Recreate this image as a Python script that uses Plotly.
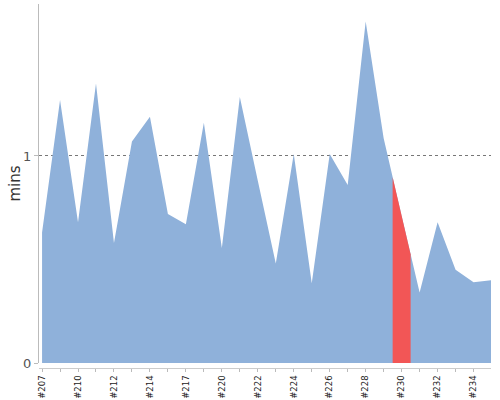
import plotly.graph_objects as go

# build numbers (only every other one is labelled on the axis)
builds = ['#207', '#209', '#210', '#211', '#212', '#213', '#214', '#216', '#217',
          '#219', '#220', '#221', '#222', '#223', '#224', '#225', '#226', '#227',
          '#228', '#229', '#230', '#231', '#232', '#233', '#234', '#235']
mins = [0.63, 1.27, 0.68, 1.35, 0.58, 1.07, 1.19, 0.72, 0.67, 1.16,
        0.555, 1.285, 0.88, 0.48, 1.01, 0.385, 1.01, 0.86, 1.65, 1.085,
        0.71, 0.34, 0.68, 0.45, 0.39, 0.40]
highlight = '#230'
y_ticks = [0, 1]

BLUE = '#8fb1da'
RED = '#f25656'

xs = list(range(len(builds)))
hi = builds.index(highlight)

# red band: half a step either side of the highlighted build
band_x = [hi - 0.5, hi, hi + 0.5]
band_y = [(mins[hi - 1] + mins[hi]) / 2, mins[hi], (mins[hi] + mins[hi + 1]) / 2]

fig = go.Figure()
fig.add_trace(go.Scatter(
    x=xs, y=mins, mode='lines', fill='tozeroy',
    line=dict(width=0, color=BLUE), fillcolor=BLUE, hoverinfo='skip'
))
fig.add_trace(go.Scatter(
    x=band_x, y=band_y, mode='lines', fill='tozeroy',
    line=dict(width=0, color=RED), fillcolor=RED, hoverinfo='skip'
))

y_dom = [5 / 364, 1]

fig.update_layout(
    width=500, height=400,
    margin=dict(l=39, r=9, t=4, b=32),
    plot_bgcolor='white', paper_bgcolor='white',
    showlegend=False,
    font=dict(family='DejaVu Sans', color='#333'),
    xaxis=dict(
        range=[-0.17, 24.97],
        anchor='free', position=0,
        tickmode='array', tickvals=xs[::2], ticktext=builds[::2],
        tickangle=-90, tickfont=dict(size=8.5, color='#222'),
        ticks='outside', ticklen=3, tickcolor='#bbb',
        minor=dict(dtick=1, ticks='outside', ticklen=3, tickcolor='#bbb'),
        showline=True, linecolor='#ccc', linewidth=1,
        showgrid=False, zeroline=False, automargin=False,
    ),
    yaxis=dict(
        domain=y_dom,
        range=[0, 1.734],
        tickmode='array', tickvals=y_ticks,
        tickfont=dict(size=13, color='#555'),
        ticks='outside', ticklen=4, tickcolor='#bbb',
        showline=True, linecolor='#bbb', linewidth=1,
        showgrid=True, gridcolor='#777', griddash='dot', gridwidth=1,
        zeroline=False, automargin=False,
    ),
    annotations=[dict(
        text='mins', textangle=-90, showarrow=False,
        xref='paper', yref='paper', x=0, y=sum(y_dom) / 2,
        xanchor='center', yanchor='middle', xshift=-25,
        font=dict(size=15, color='#333'),
    )],
)

fig.write_html("out.html", config={'displayModeBar': False},
               post_script="document.body.style.margin='0';")
